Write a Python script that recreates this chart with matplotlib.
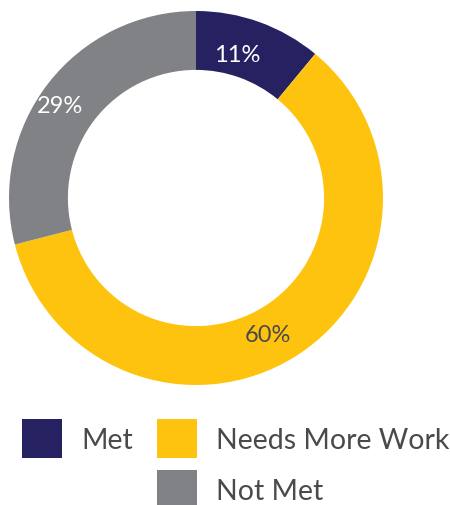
import matplotlib
matplotlib.use("Agg")
import matplotlib.pyplot as plt
import matplotlib.transforms as mtransforms
from matplotlib.patches import Patch

plt.rcParams["font.family"] = ["Lato", "DejaVu Sans"]

# outcome shares, clockwise from 12 o'clock
categories = ["Met", "Needs More Work", "Not Met"]
shares = [11, 60, 29]
colors = ["#262262", "#FEC30F", "#808285"]
label_colors = ["white", "#4a4a4a", "white"]

W, H = 450, 506
fig = plt.figure(figsize=(W / 100, H / 100), dpi=100)

# donut box in pixels (centre and outer radius)
cx, cy, R = 196, 199, 187
ax = fig.add_axes([(cx - R) / W, (H - cy - R) / H, 2 * R / W, 2 * R / H])

wedges, texts, autotexts = ax.pie(
    shares,
    colors=colors,
    startangle=90,
    counterclock=False,
    radius=1.0,
    wedgeprops=dict(width=0.315, edgecolor="none"),
    autopct="%d%%",
    pctdistance=0.84,
    textprops=dict(fontsize=17),
)
# nudge the percentage labels a little left of the wedge centre line
shift = mtransforms.offset_copy(ax.transData, fig=fig, x=-12, y=-4, units="dots")
for t, c in zip(autotexts, label_colors):
    t.set_color(c)
    t.set_transform(shift)
ax.set_xlim(-1, 1)
ax.set_ylim(-1, 1)
ax.set_aspect("equal")
ax.axis("off")

# legend: Met alone in the first column, the other two stacked in the second
handles = [Patch(facecolor=colors[0]), Patch(facecolor="none", edgecolor="none"),
           Patch(facecolor=colors[1]), Patch(facecolor=colors[2])]
labels = [categories[0], "", categories[1], categories[2]]
leg = fig.legend(
    handles, labels,
    ncol=2,
    loc="upper left",
    bbox_to_anchor=(22 / W, 1 - 420 / H),
    frameon=False,
    fontsize=20.5,
    handlelength=1.4,
    handleheight=1.75,
    handletextpad=0.68,
    columnspacing=0.85,
    labelspacing=0.42,
    borderpad=0,
    borderaxespad=0,
)
for t in leg.get_texts():
    t.set_color("#4a4a4a")

fig.savefig("out.png", dpi=100)
